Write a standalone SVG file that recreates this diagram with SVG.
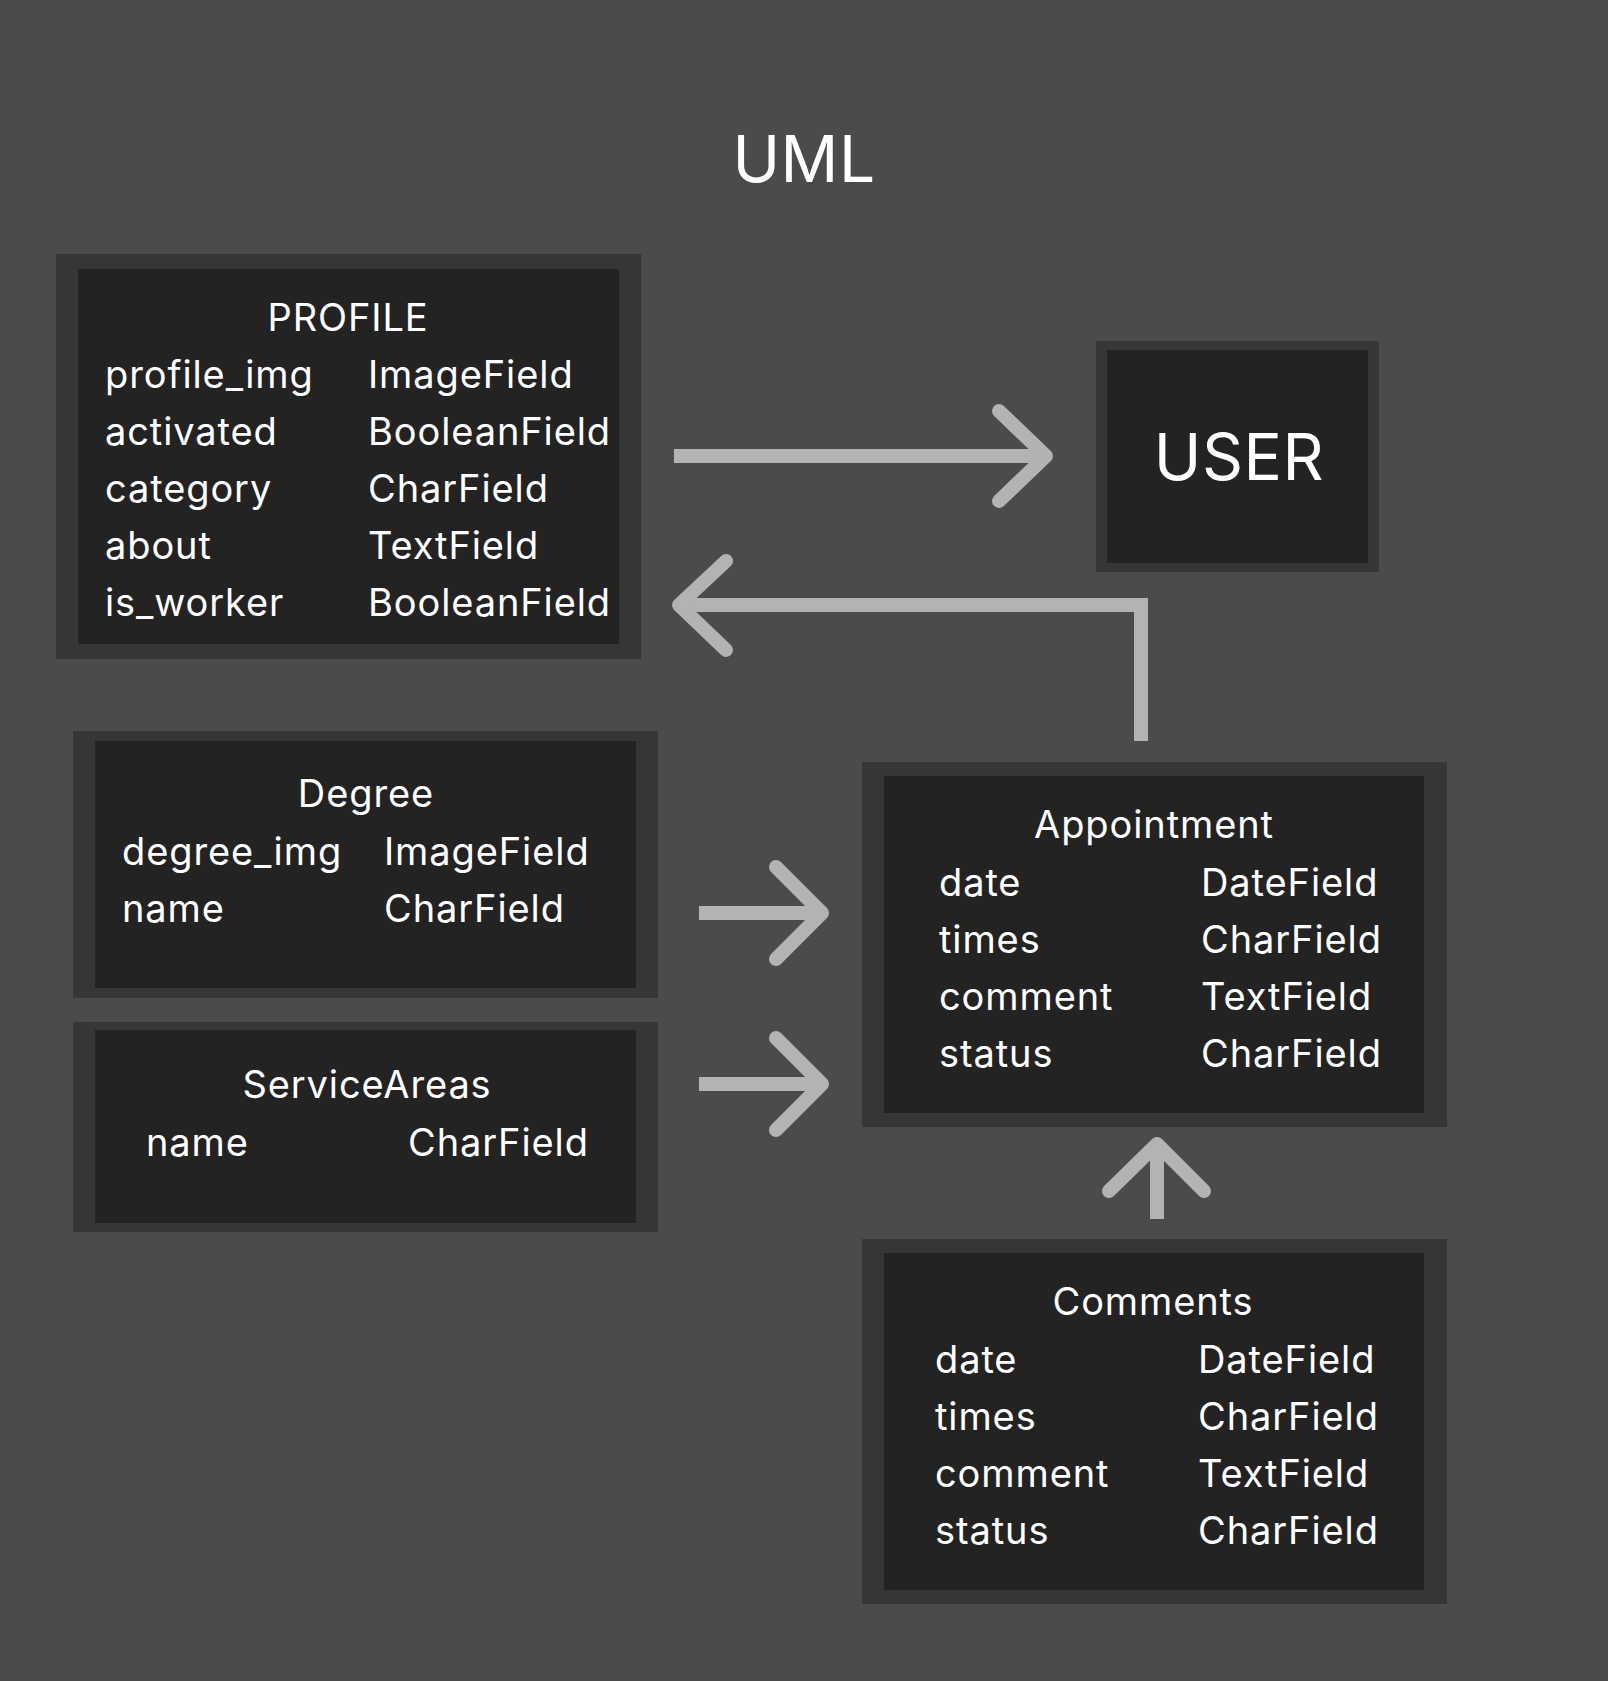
<svg xmlns="http://www.w3.org/2000/svg" width="1608" height="1681" viewBox="0 0 1608 1681">
<style>
.outer{fill:#363637}
.inner{fill:#232323}
text{font-family:Inter,"Noto Sans","Liberation Sans",sans-serif;fill:#ffffff;font-size:38px;letter-spacing:0.9px}
.t{text-anchor:middle}
.big{font-size:64px;letter-spacing:0.5px}
.conn{fill:none;stroke:#b3b3b3;stroke-width:14}
.head{fill:none;stroke:#b3b3b3;stroke-width:14;stroke-linecap:round;stroke-linejoin:round}
</style>
<rect width="1608" height="1681" fill="#4b4b4d"/>
<text id="title" x="804" y="182" class="t big">UML</text>
<g id="profile">
<rect class="outer" x="56" y="254" width="585" height="405"/>
<rect class="inner" x="78" y="269" width="541" height="375"/>
<text class="t" x="348" y="331">PROFILE</text>
<text x="105" y="388">profile_img</text><text x="368" y="388">ImageField</text>
<text x="105" y="445">activated</text><text x="368" y="445">BooleanField</text>
<text x="105" y="502">category</text><text x="368" y="502">CharField</text>
<text x="105" y="559">about</text><text x="368" y="559">TextField</text>
<text x="105" y="616">is_worker</text><text x="368" y="616">BooleanField</text>
</g>
<g id="user">
<rect class="outer" x="1096" y="341" width="283" height="231"/>
<rect class="inner" x="1107" y="350" width="261" height="213"/>
<text class="t big" x="1239" y="480">USER</text>
</g>
<g id="degree">
<rect class="outer" x="73" y="731" width="585" height="267"/>
<rect class="inner" x="95" y="741" width="541" height="247"/>
<text class="t" x="366" y="807">Degree</text>
<text x="122" y="865">degree_img</text><text x="384" y="865">ImageField</text>
<text x="122" y="922">name</text><text x="384" y="922">CharField</text>
</g>
<g id="serviceareas">
<rect class="outer" x="73" y="1022" width="585" height="210"/>
<rect class="inner" x="95" y="1030" width="541" height="193"/>
<text class="t" x="367" y="1098">ServiceAreas</text>
<text x="146" y="1156">name</text><text x="408" y="1156">CharField</text>
</g>
<g id="appointment">
<rect class="outer" x="862" y="762" width="585" height="365"/>
<rect class="inner" x="884" y="776" width="540" height="337"/>
<text class="t" x="1154" y="838">Appointment</text>
<text x="939" y="896">date</text><text x="1201" y="896">DateField</text>
<text x="939" y="953">times</text><text x="1201" y="953">CharField</text>
<text x="939" y="1010">comment</text><text x="1201" y="1010">TextField</text>
<text x="939" y="1067">status</text><text x="1201" y="1067">CharField</text>
</g>
<g id="comments">
<rect class="outer" x="862" y="1239" width="585" height="365"/>
<rect class="inner" x="884" y="1253" width="540" height="337"/>
<text class="t" x="1153" y="1315">Comments</text>
<text x="935" y="1373">date</text><text x="1198" y="1373">DateField</text>
<text x="935" y="1430">times</text><text x="1198" y="1430">CharField</text>
<text x="935" y="1487">comment</text><text x="1198" y="1487">TextField</text>
<text x="935" y="1544">status</text><text x="1198" y="1544">CharField</text>
</g>
<g id="connectors">
<path class="conn" d="M674 456H1044"/>
<path class="head" d="M999 411L1046 456L999 501"/>
<path class="conn" d="M1141 741V605H682" stroke-linejoin="miter"/>
<path class="head" d="M726 561L679 605L726 650"/>
<path class="conn" d="M699 913H820"/>
<path class="head" d="M776 867L822 913L776 959"/>
<path class="conn" d="M699 1084H820"/>
<path class="head" d="M776 1038L822 1084L776 1130"/>
<path class="conn" d="M1157 1219V1148"/>
<path class="head" d="M1109 1191L1157 1144L1204 1191"/>
</g>
</svg>
